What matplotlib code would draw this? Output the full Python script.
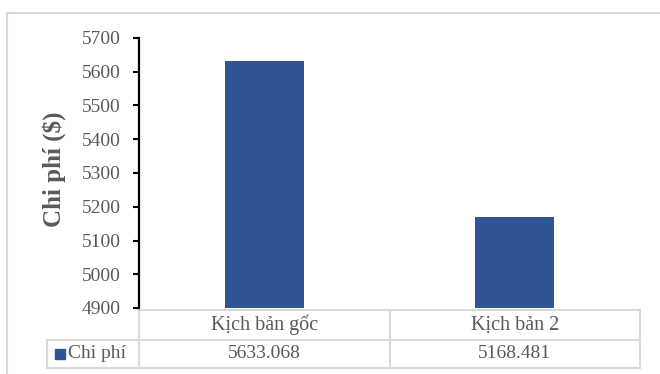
import matplotlib
matplotlib.use("Agg")
import matplotlib.pyplot as plt
from matplotlib.lines import Line2D
from matplotlib.transforms import blended_transform_factory

categories = ["Kịch bản gốc", "Kịch bản 2"]
values = [5633.068, 5168.481]
value_labels = ["5633.068", "5168.481"]
series_name = "Chi phí"
y_ticks = [4900, 5000, 5100, 5200, 5300, 5400, 5500, 5600, 5700]
y_label = "Chi phí ($)"

BAR = "#2F5597"
GRID = "#D9D9D9"
TXT = "#595959"
plt.rcParams["font.family"] = ["Liberation Serif", "DejaVu Serif"]

W, H = 660, 374
fig = plt.figure(figsize=(W / 100, H / 100), dpi=100)
ax = fig.add_axes([139 / W, 1 - 308 / H, 501 / W, 270 / H])

x = list(range(len(categories)))
ax.bar(x, values, width=0.316, color=BAR, zorder=2)
ax.set_xlim(-0.5, len(categories) - 0.5)
ax.set_ylim(y_ticks[0], y_ticks[-1])
ax.set_yticks(y_ticks)
ax.set_yticklabels([str(t) for t in y_ticks])
ax.tick_params(axis="y", direction="out", length=4, width=1.5, color="black",
               labelsize=14, labelcolor=TXT, pad=9)
ax.set_xticks([])
for s in ["top", "right", "bottom"]:
    ax.spines[s].set_visible(False)
ax.spines["left"].set_linewidth(1.6)
ax.spines["left"].set_color("black")
ax.set_ylabel(y_label, fontsize=18, fontweight="bold", color=TXT, labelpad=10)
ax.yaxis.set_label_coords(-0.146, 0.515)

# data table below the axes
yt0 = -2 / 270
yt1 = -32 / 270
yt2 = -60 / 270
xl = (47 - 139) / 501
bt = blended_transform_factory(ax.transData, ax.transAxes)
lk = dict(color=GRID, lw=1.5, clip_on=False, transform=ax.transAxes, zorder=1)
ax.add_line(Line2D([0, 1], [yt0, yt0], **lk))
ax.add_line(Line2D([xl, 1], [yt1, yt1], **lk))
ax.add_line(Line2D([xl, 1], [yt2, yt2], **lk))
ax.add_line(Line2D([xl, xl], [yt1, yt2], **lk))
ax.add_line(Line2D([0, 0], [yt0, yt2], **lk))
ax.add_line(Line2D([1, 1], [yt0, yt2], **lk))
for i in range(1, len(categories)):
    ax.add_line(Line2D([i - 0.5, i - 0.5], [yt0, yt2], color=GRID, lw=1.5,
                       clip_on=False, transform=bt, zorder=1))
for i, (c, v) in enumerate(zip(categories, value_labels)):
    ax.text(i, (yt0 + yt1) / 2, c, transform=bt, ha="center", va="center",
            fontsize=14.5, color=TXT)
    ax.text(i, (yt1 + yt2) / 2, v, transform=bt, ha="center", va="center",
            fontsize=14, color=TXT)
ax.plot([(60 - 139) / 501], [(yt1 + yt2) / 2], marker="s", markersize=7.5,
        color=BAR, transform=ax.transAxes, clip_on=False)
ax.text((68 - 139) / 501, (yt1 + yt2) / 2, series_name, transform=ax.transAxes,
        ha="left", va="center", fontsize=14, color=TXT)

# outer chart frame
fk = dict(color=GRID, lw=1.5, transform=fig.transFigure)
fig.add_artist(Line2D([7 / W, 1], [1 - 13 / H, 1 - 13 / H], **fk))
fig.add_artist(Line2D([7 / W, 7 / W], [1 - 13 / H, 0], **fk))

fig.savefig("out.png", dpi=100)
